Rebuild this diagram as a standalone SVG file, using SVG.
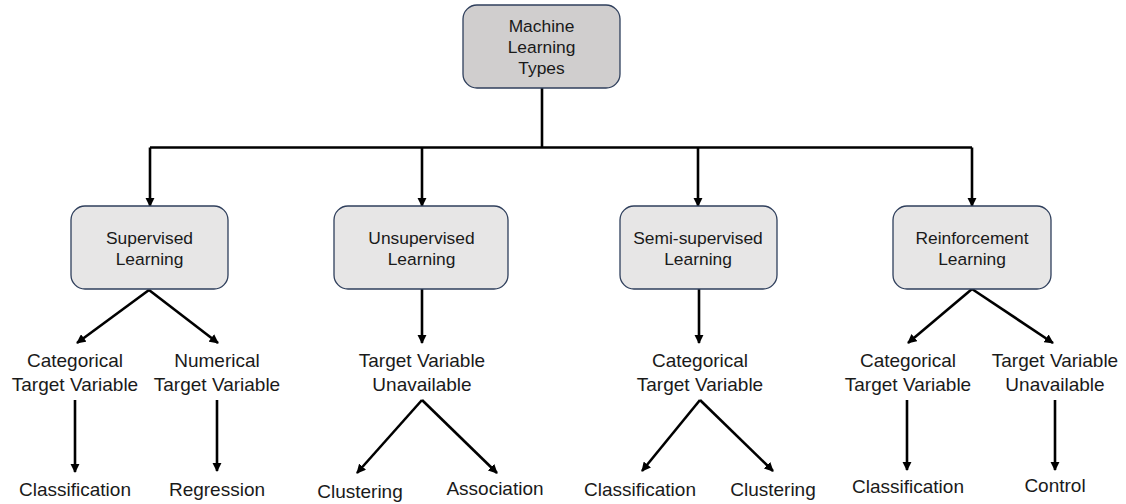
<svg xmlns="http://www.w3.org/2000/svg" width="1126" height="504" viewBox="0 0 1126 504">
  <style>
    .root { fill: #d0cece; stroke: #2f3f5c; stroke-width: 1.3; }
    .box { fill: #e7e6e6; stroke: #2f3f5c; stroke-width: 1.3; }
    .lbl { font-family: "Liberation Sans", Arial, sans-serif; font-size: 17.4px; fill: #1a1a1a; text-anchor: middle; }
    .leaf { font-family: "Liberation Sans", Arial, sans-serif; font-size: 19px; fill: #1a1a1a; text-anchor: middle; }
    .wire { fill: none; stroke: #000; stroke-width: 2.6; }
    .arrow { fill: none; stroke: #000; stroke-width: 2.6; marker-end: url(#head); }
  </style>
  <defs>
    <marker id="head" viewBox="0 0 10 10" refX="9" refY="5" markerWidth="3.6" markerHeight="3.6" orient="auto" markerUnits="strokeWidth">
      <path d="M0,0 L10,5 L0,10 z" fill="#000"/>
    </marker>
  </defs>
  <rect width="1126" height="504" fill="#fff"/>

  <g id="connectors">
    <!-- trunk and bus -->
    <path class="wire" d="M542,88 V147.5"/>
    <path class="wire" d="M150,147.5 H972"/>
    <path class="arrow" d="M150,147.5 V206"/>
    <path class="arrow" d="M422,147.5 V206"/>
    <path class="arrow" d="M698,147.5 V206"/>
    <path class="arrow" d="M972,147.5 V206"/>
    <!-- supervised -->
    <path class="arrow" d="M149,290 L77,343"/>
    <path class="arrow" d="M149,290 L218,343"/>
    <path class="arrow" d="M75,400 V472"/>
    <path class="arrow" d="M217,400 V471"/>
    <!-- unsupervised -->
    <path class="arrow" d="M422,289 V343"/>
    <path class="arrow" d="M422,400 L357,473"/>
    <path class="arrow" d="M422,400 L497,473"/>
    <!-- semi-supervised -->
    <path class="arrow" d="M699,289 V343"/>
    <path class="arrow" d="M700,400 L642,471"/>
    <path class="arrow" d="M700,400 L773,471"/>
    <!-- reinforcement -->
    <path class="arrow" d="M972,289 L908,343"/>
    <path class="arrow" d="M972,289 L1053,343"/>
    <path class="arrow" d="M907,400 V470"/>
    <path class="arrow" d="M1055,400 V470"/>
  </g>

  <g id="ml-types">
    <rect class="root" x="463" y="5" width="157" height="83" rx="14"/>
    <text class="lbl" x="541.5" y="32">Machine</text>
    <text class="lbl" x="541.5" y="53">Learning</text>
    <text class="lbl" x="541.5" y="74">Types</text>
  </g>

  <g id="supervised">
    <rect class="box" x="71" y="206" width="157" height="83" rx="14"/>
    <text class="lbl" x="149.5" y="244">Supervised</text>
    <text class="lbl" x="149.5" y="265">Learning</text>
  </g>
  <g id="unsupervised">
    <rect class="box" x="334" y="206" width="174" height="83" rx="14"/>
    <text class="lbl" x="421.5" y="244">Unsupervised</text>
    <text class="lbl" x="421.5" y="265">Learning</text>
  </g>
  <g id="semi-supervised">
    <rect class="box" x="620" y="206" width="157" height="83" rx="14"/>
    <text class="lbl" x="698" y="244">Semi-supervised</text>
    <text class="lbl" x="698" y="265">Learning</text>
  </g>
  <g id="reinforcement">
    <rect class="box" x="893" y="206" width="158" height="83" rx="14"/>
    <text class="lbl" x="972" y="244">Reinforcement</text>
    <text class="lbl" x="972" y="265">Learning</text>
  </g>

  <g id="sup-categorical">
    <text class="leaf" x="75" y="367">Categorical</text>
    <text class="leaf" x="75" y="391">Target Variable</text>
  </g>
  <g id="sup-numerical">
    <text class="leaf" x="217" y="367">Numerical</text>
    <text class="leaf" x="217" y="391">Target Variable</text>
  </g>
  <g id="sup-classification"><text class="leaf" x="75" y="496">Classification</text></g>
  <g id="sup-regression"><text class="leaf" x="217" y="496">Regression</text></g>

  <g id="unsup-target">
    <text class="leaf" x="422" y="367">Target Variable</text>
    <text class="leaf" x="422" y="391">Unavailable</text>
  </g>
  <g id="unsup-clustering"><text class="leaf" x="360" y="498">Clustering</text></g>
  <g id="unsup-association"><text class="leaf" x="495" y="495">Association</text></g>

  <g id="semi-categorical">
    <text class="leaf" x="700" y="367">Categorical</text>
    <text class="leaf" x="700" y="391">Target Variable</text>
  </g>
  <g id="semi-classification"><text class="leaf" x="640" y="496">Classification</text></g>
  <g id="semi-clustering"><text class="leaf" x="773" y="496">Clustering</text></g>

  <g id="rl-categorical">
    <text class="leaf" x="908" y="367">Categorical</text>
    <text class="leaf" x="908" y="391">Target Variable</text>
  </g>
  <g id="rl-target">
    <text class="leaf" x="1055" y="367">Target Variable</text>
    <text class="leaf" x="1055" y="391">Unavailable</text>
  </g>
  <g id="rl-classification"><text class="leaf" x="908" y="493">Classification</text></g>
  <g id="rl-control"><text class="leaf" x="1055" y="492">Control</text></g>
</svg>
